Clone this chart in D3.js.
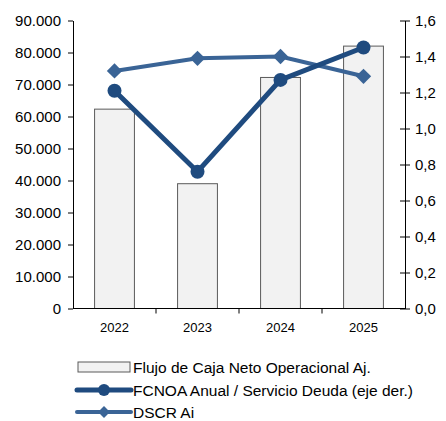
<!DOCTYPE html>
<html>
<head>
<meta charset="utf-8">
<script src="https://cdn.jsdelivr.net/npm/d3@7"></script>
<style>
body { margin: 0; background: #fff; }
svg { display: block; font-family: "Liberation Sans", Arial, sans-serif; }
</style>
</head>
<body>
<svg width="446" height="421"></svg>
<script>
var years = ["2022", "2023", "2024", "2025"];
var flujo = [62300, 39000, 72200, 82000];
var fcnoa = [1.21, 0.76, 1.27, 1.45];
var dscr = [1.32, 1.39, 1.40, 1.29];
var leftTicks = [0, 10000, 20000, 30000, 40000, 50000, 60000, 70000, 80000, 90000];
var rightTicks = [0, 0.2, 0.4, 0.6, 0.8, 1.0, 1.2, 1.4, 1.6];
var legendLabels = ["Flujo de Caja Neto Operacional Aj.", "FCNOA Anual / Servicio Deuda (eje der.)", "DSCR Ai"];

var svg = d3.select("svg"),
	margin = {top: 20.5, left: 73, right: 41, bottom: 112.5},
	width = 446 - margin.left - margin.right,
	height = 421 - margin.top - margin.bottom;

var fcnoaColor = "#1f4b7f",
	dscrColor = "#3a6496";

var g = svg.append("g")
	.attr("transform", "translate(" + margin.left + "," + margin.top + ")");

var x = d3.scaleBand()
	.domain(years)
	.range([0, width])
	.paddingInner(0.52)
	.paddingOuter(0.26);

var yL = d3.scaleLinear().domain([0, 90000]).range([height, 0]);
var yR = d3.scaleLinear().domain([0, 1.6]).range([height, 0]);

var fmtL = function(d) { return d === 0 ? "0" : d3.format(",")(d).replace(/,/g, "."); };
var fmtR = function(d) { return d.toFixed(1).replace(".", ","); };

// bars
g.selectAll(".bar")
	.data(flujo)
	.enter()
	.append("rect")
	.attr("class", "bar")
	.attr("x", function(d, i) { return x(years[i]); })
	.attr("y", function(d) { return yL(d); })
	.attr("width", x.bandwidth())
	.attr("height", function(d) { return height - yL(d); })
	.attr("fill", "#f2f2f2")
	.attr("stroke", "#5a5a5a")
	.attr("stroke-width", 1);

// left axis
var axL = g.append("g")
	.call(d3.axisLeft(yL).tickValues(leftTicks).tickFormat(fmtL).tickSize(5).tickSizeOuter(0));
axL.selectAll("text").attr("font-size", "15px").attr("fill", "#000").attr("x", -12);

// right axis
var axR = g.append("g")
	.attr("transform", "translate(" + width + ",0)")
	.call(d3.axisRight(yR).tickValues(rightTicks).tickFormat(fmtR).tickSize(5).tickSizeOuter(0));
axR.selectAll(".tick line").attr("x1", -5);
axR.selectAll("text").attr("font-size", "15px").attr("fill", "#000").attr("x", 10);

// bottom axis
var boundaries = [1, 2, 3].map(function(i) { return x.step() * i; });
var axB = g.append("g").attr("transform", "translate(0," + height + ")");
axB.append("line").attr("x1", 0).attr("x2", width).attr("stroke", "#000");
axB.selectAll(".btick")
	.data(boundaries)
	.enter()
	.append("line")
	.attr("x1", function(d) { return d; })
	.attr("x2", function(d) { return d; })
	.attr("y1", 0).attr("y2", 5)
	.attr("stroke", "#000");
axB.selectAll(".ylab")
	.data(years)
	.enter()
	.append("text")
	.attr("x", function(d) { return x(d) + x.bandwidth() / 2; })
	.attr("y", 23)
	.attr("text-anchor", "middle")
	.attr("font-size", "13px")
	.text(function(d) { return d; });

svg.selectAll(".domain").attr("stroke", "#000");
svg.selectAll(".tick line").attr("stroke", "#000");

var cx = function(d, i) { return x(years[i]) + x.bandwidth() / 2; };

// DSCR line
var line = d3.line()
	.x(function(d, i) { return cx(d, i); })
	.y(function(d) { return yR(d); });

g.append("path")
	.datum(dscr)
	.attr("fill", "none")
	.attr("stroke", dscrColor)
	.attr("stroke-width", 4)
	.attr("d", line);

var diamond = d3.symbol().type(d3.symbolDiamond2).size(150);
g.selectAll(".dia")
	.data(dscr)
	.enter()
	.append("path")
	.attr("transform", function(d, i) { return "translate(" + cx(d, i) + "," + yR(d) + ")"; })
	.attr("d", diamond)
	.attr("fill", dscrColor);

// FCNOA line
g.append("path")
	.datum(fcnoa)
	.attr("fill", "none")
	.attr("stroke", fcnoaColor)
	.attr("stroke-width", 5)
	.attr("d", line);

g.selectAll(".dot")
	.data(fcnoa)
	.enter()
	.append("circle")
	.attr("cx", cx)
	.attr("cy", function(d) { return yR(d); })
	.attr("r", 7)
	.attr("fill", fcnoaColor);

// legend
var lg = svg.append("g");
var rows = [367, 390, 412];
lg.append("rect")
	.attr("x", 78).attr("y", rows[0] - 5)
	.attr("width", 52).attr("height", 10)
	.attr("fill", "#f2f2f2")
	.attr("stroke", "#5a5a5a");
lg.append("line")
	.attr("x1", 77).attr("x2", 131)
	.attr("y1", rows[1]).attr("y2", rows[1])
	.attr("stroke", fcnoaColor).attr("stroke-width", 5)
	.attr("stroke-linecap", "round");
lg.append("circle")
	.attr("cx", 104).attr("cy", rows[1]).attr("r", 6)
	.attr("fill", fcnoaColor);
lg.append("line")
	.attr("x1", 77).attr("x2", 131)
	.attr("y1", rows[2]).attr("y2", rows[2])
	.attr("stroke", dscrColor).attr("stroke-width", 4)
	.attr("stroke-linecap", "round");
lg.append("path")
	.attr("transform", "translate(104," + rows[2] + ")")
	.attr("d", d3.symbol().type(d3.symbolDiamond2).size(90))
	.attr("fill", dscrColor);
lg.selectAll(".ltxt")
	.data(legendLabels)
	.enter()
	.append("text")
	.attr("x", 133)
	.attr("y", function(d, i) { return rows[i]; })
	.attr("dy", "0.36em")
	.attr("font-size", "15.5px")
	.text(function(d) { return d; });
</script>
</body>
</html>
